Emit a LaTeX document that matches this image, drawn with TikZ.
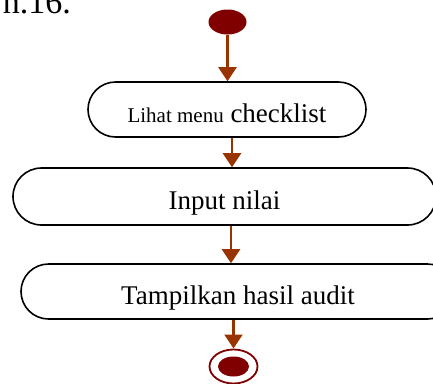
\documentclass[tikz,border=0pt]{standalone}
\usepackage{fontspec}
\setmainfont{Liberation Serif}
\usetikzlibrary{shapes.misc,arrows.meta}

\definecolor{flowline}{HTML}{993300}
\definecolor{nodefill}{HTML}{800000}

\tikzset{
  action/.style={draw=black, line width=1.6pt, rounded rectangle, fill=white,
    inner sep=0pt, text height=25pt, text depth=0pt, font=\fontsize{27}{29}\selectfont},
  flow/.style={draw=flowline, line width=2.4pt,
    -{Triangle[width=18pt,length=14pt]}},
}

\begin{document}
\begin{tikzpicture}[x=1pt,y=-1pt]
  \useasboundingbox (0,0) rectangle (433,383);

  % caption remnant cut by the upper edge
  \node[anchor=base east, inner sep=0pt, font=\fontsize{34}{36}\selectfont] (cap) at (71,13) {n.16.};

  % initial state
  \fill[nodefill] (227.5,22) ellipse [x radius=19, y radius=12.5];
  \coordinate (start) at (227.5,34.5);

  % activities
  \node[action, minimum width=278pt, minimum height=55pt] (b1) at (227,109.5)
    {{\fontsize{21}{24}\selectfont Lihat menu} checklist};
  \node[action, minimum width=423pt, minimum height=57pt] (b2) at (224.5,196.5)
    {Input nilai};
  \node[action, minimum width=434pt, minimum height=55pt] (b3) at (238,291.5)
    {Tampilkan hasil audit};

  % final state
  \draw[nodefill, line width=1.8pt] (233.5,366.5) ellipse [x radius=24, y radius=17];
  \fill[nodefill] (233.5,366.5) ellipse [x radius=15.5, y radius=10];
  \coordinate (finish) at (233.5,348.5);

  % control flow
  \draw[flow] (start) -- (start |- b1.north);
  \draw[flow] (b1.south -| 232,0) -- (b2.north -| 232,0);
  \draw[flow] (b2.south -| 231,0) -- (b3.north -| 231,0);
  \draw[flow] (b3.south -| 233.5,0) -- (finish);
\end{tikzpicture}
\end{document}
